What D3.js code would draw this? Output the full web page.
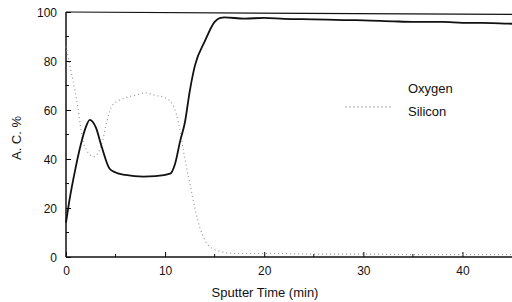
<!DOCTYPE html>
<html>
<head>
<meta charset="utf-8">
<script src="https://cdn.jsdelivr.net/npm/d3@7"></script>
<style>
  body { margin: 0; background: #fff; }
  text { font-family: "Liberation Sans", Arial, sans-serif; fill: #111; }
</style>
</head>
<body>
<div id="chart"></div>
<script>
// Data
var oxyTime = [0, 0.3, 1, 1.5, 2, 2.4, 3, 3.6, 4.4, 5, 6, 7.8, 9, 10.5, 11, 11.5, 12, 12.5, 13, 14, 15, 15.5, 16, 18, 20, 22, 25, 28, 30, 33, 35, 38, 40, 43, 45];
var oxygen  = [14, 22, 37, 46, 53, 56, 53, 45, 36, 34.5, 33.5, 32.8, 33, 34, 38, 47, 55, 68, 78, 88, 96, 97.5, 97.8, 97.3, 97.6, 97.2, 97, 96.7, 96.6, 96.2, 96, 96, 95.6, 95.5, 95.2];

var siTime  = [0, 0.5, 0.9, 1.2, 1.4, 1.9, 2.8, 3.6, 4.1, 4.7, 6, 7, 8, 9, 10, 10.8, 11.5, 12, 12.5, 13, 13.5, 14, 15, 17, 20, 25, 30, 35, 40, 45];
var silicon = [86, 76, 68, 61, 55, 45, 41, 46, 55, 62, 65, 66, 67, 66, 65, 62, 52, 40, 30, 20, 12, 7, 3, 1.5, 1.5, 1.2, 1.2, 1, 1, 1];

var yTicks = [0, 20, 40, 60, 80, 100];
var xTicks = [0, 10, 20, 30, 40];
var seriesNames = ["Oxygen", "Silicon"];

var width = 512, height = 302;
var margin = { top: 12, right: 0, bottom: 45, left: 66 };

var svg = d3.select("#chart").append("svg")
  .attr("width", width)
  .attr("height", height);

var x = d3.scaleLinear().domain([0, 45]).range([margin.left, width - margin.right]);
var y = d3.scaleLinear().domain([0, 100]).range([height - margin.bottom, margin.top]);

// Axes with inward ticks
var yAxis = svg.append("g")
  .attr("transform", "translate(" + margin.left + ",0)")
  .call(d3.axisLeft(y).tickValues(yTicks).tickSize(-5).tickPadding(9));
yAxis.select(".domain").remove();
yAxis.selectAll("text").style("font-size", "12px").attr("dy", "0.35em");

var xAxis = svg.append("g")
  .attr("transform", "translate(0," + (height - margin.bottom) + ")")
  .call(d3.axisBottom(x).tickValues(xTicks).tickSize(-5).tickPadding(9));
xAxis.select(".domain").remove();
xAxis.selectAll("text").style("font-size", "12px");

// Minor ticks
svg.append("g").selectAll("line")
  .data(d3.range(10, 100, 20))
  .enter().append("line")
  .attr("x1", margin.left).attr("x2", margin.left + 3)
  .attr("y1", function (d) { return y(d); }).attr("y2", function (d) { return y(d); })
  .attr("stroke", "#111");
svg.append("g").selectAll("line")
  .data(d3.range(5, 45, 10))
  .enter().append("line")
  .attr("y1", y(0)).attr("y2", y(0) - 3)
  .attr("x1", function (d) { return x(d); }).attr("x2", function (d) { return x(d); })
  .attr("stroke", "#111");

// Frame lines: left, bottom, top
svg.append("line").attr("x1", x(0)).attr("x2", x(0)).attr("y1", y(0)).attr("y2", y(100))
  .attr("stroke", "#111").attr("stroke-width", 1.5);
svg.append("line").attr("x1", x(0)).attr("x2", x(45)).attr("y1", y(0)).attr("y2", y(0))
  .attr("stroke", "#111").attr("stroke-width", 1.5);
svg.append("line").attr("x1", x(0)).attr("x2", x(45)).attr("y1", y(100)).attr("y2", y(99))
  .attr("stroke", "#111").attr("stroke-width", 1.2);

// Lines
var line = d3.line()
  .x(function (d) { return x(d[0]); })
  .y(function (d) { return y(d[1]); })
  .curve(d3.curveMonotoneX);

svg.append("path")
  .datum(d3.zip(siTime, silicon))
  .attr("fill", "none")
  .attr("stroke", "#999")
  .attr("stroke-width", 1.2)
  .attr("stroke-dasharray", "1,3")
  .attr("d", line);

svg.append("path")
  .datum(d3.zip(oxyTime, oxygen))
  .attr("fill", "none")
  .attr("stroke", "#111")
  .attr("stroke-width", 1.8)
  .attr("d", line);

// Legend (only Silicon shows a line sample)
var legend = svg.selectAll(".legend")
  .data(seriesNames)
  .enter().append("g")
  .attr("class", "legend")
  .attr("transform", function (d, i) { return "translate(408," + (88 + i * 23) + ")"; });

legend.append("text")
  .attr("dy", "0.35em")
  .style("font-size", "13px")
  .text(function (d) { return d; });

svg.append("line")
  .attr("x1", 345).attr("x2", 392).attr("y1", 107).attr("y2", 107)
  .attr("stroke", "#aaa").attr("stroke-dasharray", "2,2");

// Axis titles
svg.append("text")
  .attr("x", (margin.left + width) / 2 - 24)
  .attr("y", 297)
  .attr("text-anchor", "middle")
  .style("font-size", "13px")
  .text("Sputter Time (min)");

svg.append("text")
  .attr("transform", "translate(21," + 138 + ") rotate(-90)")
  .attr("text-anchor", "middle")
  .style("font-size", "13px")
  .text("A. C. %");
</script>
</body>
</html>
